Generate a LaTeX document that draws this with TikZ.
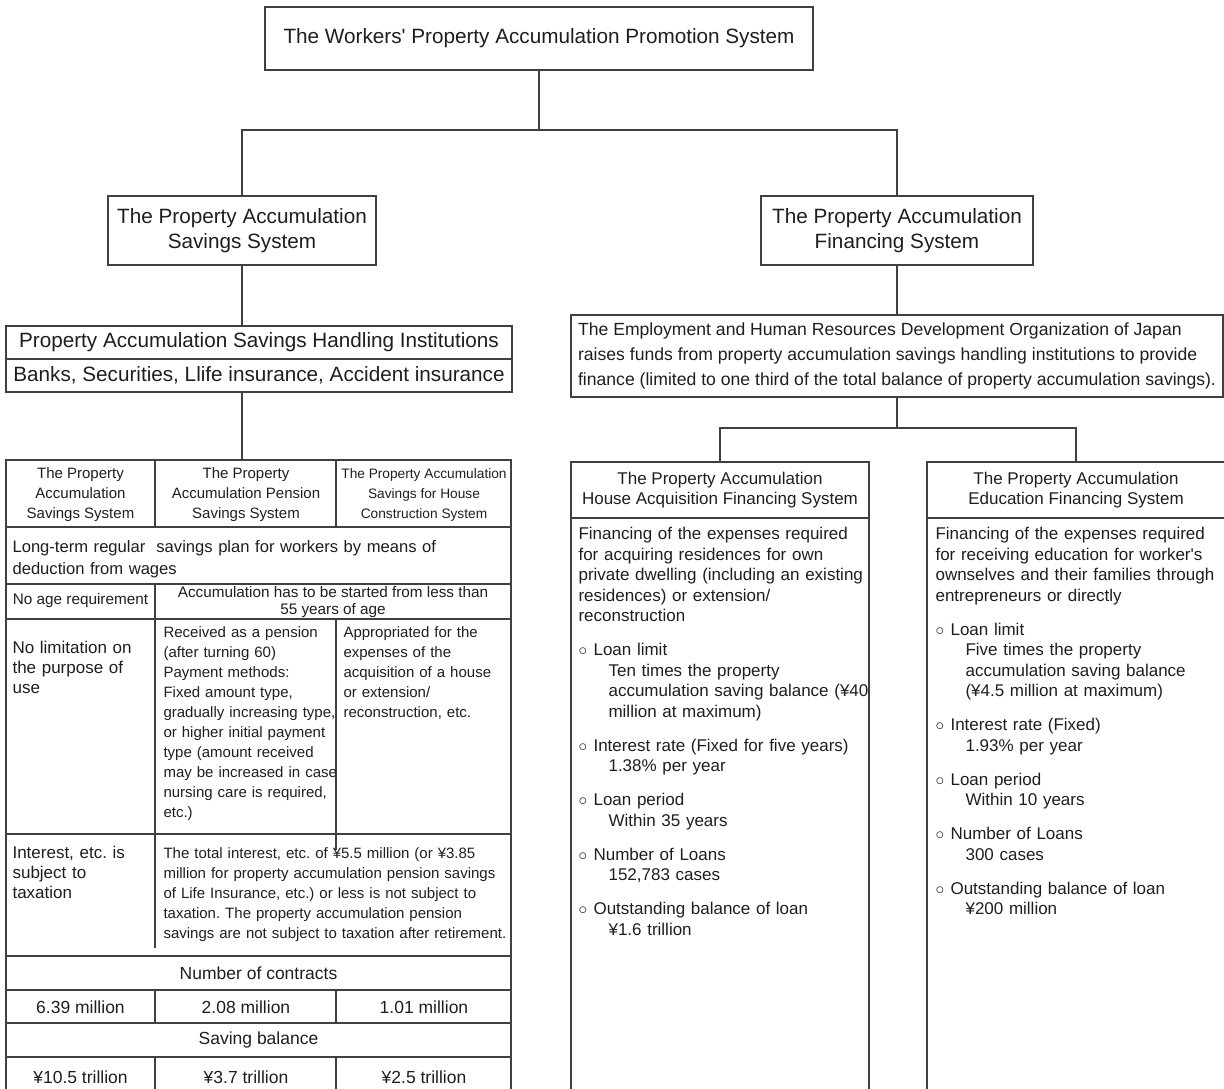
\documentclass[tikz,border=0pt]{standalone}
\usepackage{fontspec}
\setmainfont{Liberation Sans}
\usetikzlibrary{positioning}
\tikzset{every node/.append style={align=center}}
\usepackage{xcolor}
\definecolor{rulegray}{RGB}{64,64,64}
\definecolor{inkgray}{RGB}{30,30,30}
\newcommand{\fsz}[2]{\fontsize{#1}{#2}\selectfont}
\newcommand{\loanitem}{\makebox[15pt][l]{$\circ$}}
\newcommand{\loansub}{\hspace*{30pt}}
\frenchspacing

\begin{document}
\begin{tikzpicture}[x=1pt,y=-1pt, line width=1.1pt, draw=rulegray,
  box/.style={draw=rulegray, text=inkgray, inner sep=0pt, outer sep=0pt,
              font=\fsz{20.7}{24.5}},
  txt/.style={text=inkgray, inner sep=0pt},
  para/.style={txt, anchor=base west, text width=#1, align=left},
]
\useasboundingbox (0,0) rectangle (1224,1088);

% ── top of the tree ───────────────────────────────────────────────────────────
\node[box, minimum width=548pt, minimum height=63pt] (wpa) at (539,38.5)
      {The Workers\textquotesingle{} Property Accumulation Promotion System};

\node[box, minimum width=268pt, minimum height=69pt] (sav) at (242,230.5)
      {The Property Accumulation\\Savings System};
\node[box, minimum width=272pt, minimum height=69pt] (fin) at (897,230.5)
      {The Property Accumulation\\Financing System};

\coordinate (split) at (539,130);
\draw (wpa) -- (split);
\draw (sav) |- (split) -| (fin);

% ── savings side ──────────────────────────────────────────────────────────────
\node[box, minimum width=506pt, minimum height=33pt] (inst) at (259,342.5)
      {Property Accumulation Savings Handling Institutions};
\node[box, minimum width=506pt, minimum height=33pt, below=0pt of inst] (banks)
      {Banks, Securities, Llife insurance, Accident insurance};
\draw (sav) -- (inst.north -| sav);

\coordinate (tabtop) at (242,460);
\draw (banks.south -| sav) -- (tabtop);

% table rules
\draw (6,1100) -- (6,460) -- (511,460) -- (511,1100);
\foreach \y in {527,584,619,834,956,990,1023,1057}
  \draw (6,\y) -- (511,\y);
\foreach \ya/\yb in {460/527, 584/948, 990/1023, 1057/1100}
  \draw (155,\ya) -- (155,\yb);
\foreach \ya/\yb in {460/527, 619/850, 990/1023, 1057/1100}
  \draw (336,\ya) -- (336,\yb);

% table header
\node[txt, font=\fsz{15}{20}] (hd1) at (80.5,495)
      {The Property\\Accumulation\\Savings System};
\node[txt, font=\fsz{15}{20}] (hd2) at (246,495)
      {The Property\\Accumulation Pension\\Savings System};
\node[txt, font=\fsz{13.7}{20}] (hd3) at (424,495)
      {The Property Accumulation\\Savings for House\\Construction System};

% table body
\node[para=490pt, font=\fsz{16.6}{21.5}] (plan) at (12,552.5)
      {Long-term regular \ savings plan for workers by means of\\deduction from wages};
\node[txt, font=\fsz{15.3}{17}] (noage) at (80.5,601) {No age requirement};
\node[txt, font=\fsz{15.3}{17}] (age55) at (333,602)
      {Accumulation has to be started from less than\\55 years of age};

\node[para=140pt, font=\fsz{17}{20}] (purpose) at (12,653.7)
      {No limitation on\\the purpose of\\use};
\node[para=176pt, font=\fsz{15}{20}] (pension) at (163,637)
      {Received as a pension\\(after turning 60)\\Payment methods:\\Fixed amount type,\\
       gradually increasing type,\\or higher initial payment\\type (amount received\\
       may be increased in case\\nursing care is required,\\etc.)};
\node[para=166pt, font=\fsz{15}{20}] (houseuse) at (343,637)
      {Appropriated for the\\expenses of the\\acquisition of a house\\or extension/\\
       reconstruction, etc.};

\node[para=140pt, font=\fsz{17}{20}] (tax) at (12,858.7)
      {Interest, etc. is\\subject to\\taxation};
\node[para=346pt, font=\fsz{15}{20}] (taxfree) at (163,858)
      {The total interest, etc. of ¥5.5 million (or ¥3.85\\
       million for property accumulation pension savings\\
       of Life Insurance, etc.) or less is not subject to\\
       taxation. The property accumulation pension\\
       savings are not subject to taxation after retirement.};

\node[txt, font=\fsz{17.5}{21}] (contracts) at (258.5,973) {Number of contracts};
\node[txt, font=\fsz{17.5}{21}] (cnt1) at (80.5,1007) {6.39 million};
\node[txt, font=\fsz{17.5}{21}] (cnt2) at (246,1007) {2.08 million};
\node[txt, font=\fsz{17.5}{21}] (cnt3) at (424,1007) {1.01 million};
\node[txt, font=\fsz{17.5}{21}] (balance) at (258.5,1040) {Saving balance};
\node[txt, font=\fsz{17.5}{21}] (bal1) at (80.5,1077) {¥10.5 trillion};
\node[txt, font=\fsz{17.5}{21}] (bal2) at (246,1077) {¥3.7 trillion};
\node[txt, font=\fsz{17.5}{21}] (bal3) at (424,1077) {¥2.5 trillion};

% ── financing side ────────────────────────────────────────────────────────────
\node[box, minimum width=652pt, minimum height=82pt, font=\fsz{17.6}{25}, align=left]
      (jeed) at (897,356)
      {The Employment and Human Resources Development Organization of Japan\\
       raises funds from property accumulation savings handling institutions to provide\\
       finance (limited to one third of the total balance of property accumulation savings).};
\draw (fin) -- (jeed);

\coordinate (fork) at (897,428);
\node[box, minimum width=298pt, minimum height=56pt, font=\fsz{17}{20}] (househd)
      at (720,490) {The Property Accumulation\\House Acquisition Financing System};
\node[box, minimum width=298pt, minimum height=56pt, font=\fsz{17}{20}] (eduhd)
      at (1076,490) {The Property Accumulation\\Education Financing System};
\draw (jeed) -- (fork);
\draw (househd) |- (fork) -| (eduhd);

% open-ended columns below the headers
\draw (househd.south west) -- ++(0,590);
\draw (househd.south east) -- ++(0,590);
\draw (eduhd.south west) -- ++(0,590);
\draw (eduhd.south east) -- ++(0,590);

\node[para=290pt, font=\fsz{17}{20.5}] (housetxt) at (578,539.7)
      {Financing of the expenses required\\
       for acquiring residences for own\\
       private dwelling (including an existing\\
       residences) or extension/\\
       reconstruction\\[13.5pt]
       \loanitem Loan limit\\
       \loansub Ten times the property\\
       \loansub accumulation saving balance (¥40\\
       \loansub million at maximum)\\[13.5pt]
       \loanitem Interest rate (Fixed for five years)\\
       \loansub 1.38\% per year\\[13.5pt]
       \loanitem Loan period\\
       \loansub Within 35 years\\[13.5pt]
       \loanitem Number of Loans\\
       \loansub 152,783 cases\\[13.5pt]
       \loanitem Outstanding balance of loan\\
       \loansub ¥1.6 trillion};

\node[para=285pt, font=\fsz{17}{20.5}] (edutxt) at (935,539.7)
      {Financing of the expenses required\\
       for receiving education for worker\textquotesingle s\\
       ownselves and their families through\\
       entrepreneurs or directly\\[13.5pt]
       \loanitem Loan limit\\
       \loansub Five times the property\\
       \loansub accumulation saving balance\\
       \loansub (¥4.5 million at maximum)\\[13.5pt]
       \loanitem Interest rate (Fixed)\\
       \loansub 1.93\% per year\\[13.5pt]
       \loanitem Loan period\\
       \loansub Within 10 years\\[13.5pt]
       \loanitem Number of Loans\\
       \loansub 300 cases\\[13.5pt]
       \loanitem Outstanding balance of loan\\
       \loansub ¥200 million};

\end{tikzpicture}
\end{document}
